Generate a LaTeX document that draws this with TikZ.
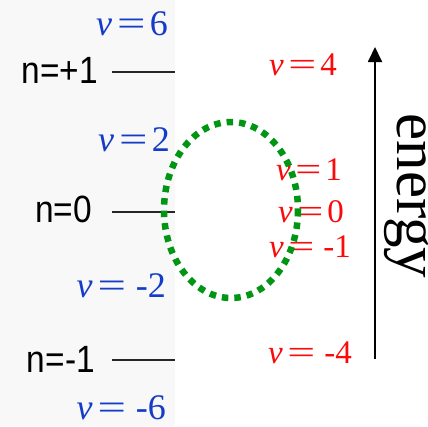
\documentclass[tikz,border=0pt]{standalone}
\usepackage{fontspec}
\setmainfont{Liberation Serif}
\setsansfont{Liberation Sans}
\usetikzlibrary{arrows.meta}
\definecolor{nublue}{RGB}{20,60,200}
\definecolor{nured}{RGB}{250,10,10}
\definecolor{ovgreen}{RGB}{0,150,20}
\definecolor{leftbg}{RGB}{248,248,248}
\tikzset{
  bluelab/.style={inner sep=0pt, text depth=0pt, font=\fontsize{36}{36}\selectfont, anchor=base east, text=nublue},
  redlab/.style={inner sep=0pt, text depth=0pt, font=\fontsize{33}{33}\selectfont, anchor=base east, text=nured},
  nlab/.style={inner sep=0pt, font=\sffamily\fontsize{38}{38}\selectfont, anchor=base east},
  level/.style={line width=2pt, black!85},
}
\newcommand{\nueq}[2]{{\itshape ν}\hspace{0.14em}\scalebox{#1}[1]{=}\hspace{0.12em}#2}
\newcommand{\nlabel}[1]{\scalebox{0.88}[1]{#1}}
\begin{document}
\begin{tikzpicture}[x=1pt,y=-1pt]
\useasboundingbox (0,0) rectangle (428,426);
\fill[leftbg] (0,0) rectangle (175,426);
% levels
\node[nlab] (n1) at (98,83) {\nlabel{n=+1}};
\node[nlab] (n0) at (92,222) {\nlabel{n=0}};
\node[nlab] (nm1) at (95,372) {\nlabel{n=-1}};
\coordinate (l1a) at (112,72); \coordinate (l1b) at (175,72);
\coordinate (l0a) at (112,212); \coordinate (l0b) at (175,212);
\coordinate (lm1a) at (112,360); \coordinate (lm1b) at (175,360);
\draw[level] (l1a) -- (l1b);
\draw[level] (l0a) -- (l0b);
\draw[level] (lm1a) -- (lm1b);
% blue labels
\node[bluelab] (b6) at (168,35) {\nueq{1.4}{6}};
\node[bluelab] (b2) at (170,151) {\nueq{1.4}{2}};
\node[bluelab] (bm2) at (166,297) {\nueq{1.4}{\hspace{0.15em}-2}};
\node[bluelab] (bm6) at (166,419) {\nueq{1.4}{\hspace{0.15em}-6}};
% red labels
\node[redlab] (r4) at (337,75) {\nueq{1.5}{4}};
\node[redlab] (r1) at (342,180) {\nueq{1.4}{1}};
\node[redlab] (r0) at (344,222) {\nueq{1.4}{0}};
\node[redlab] (rm1) at (351,257) {\nueq{1.4}{\hspace{0.15em}-1}};
\node[redlab] (rm4) at (352,363) {\nueq{1.5}{\hspace{0.15em}-4}};
% green ellipse
\draw[ovgreen, line width=6.5pt, dash pattern=on 6.5pt off 6pt] (231,210) ellipse [x radius=67, y radius=88];
% energy arrow
\coordinate (ea) at (375,359); \coordinate (eb) at (375,47);
\draw[line width=1.8pt, -{Triangle[length=15pt,width=14pt]}] (ea) -- (eb);
\node[rotate=-90, inner sep=0pt, text height=27pt, text depth=13pt, font=\fontsize{61}{61}\selectfont] (energy) at (404,196) {energy};
\end{tikzpicture}
\end{document}
